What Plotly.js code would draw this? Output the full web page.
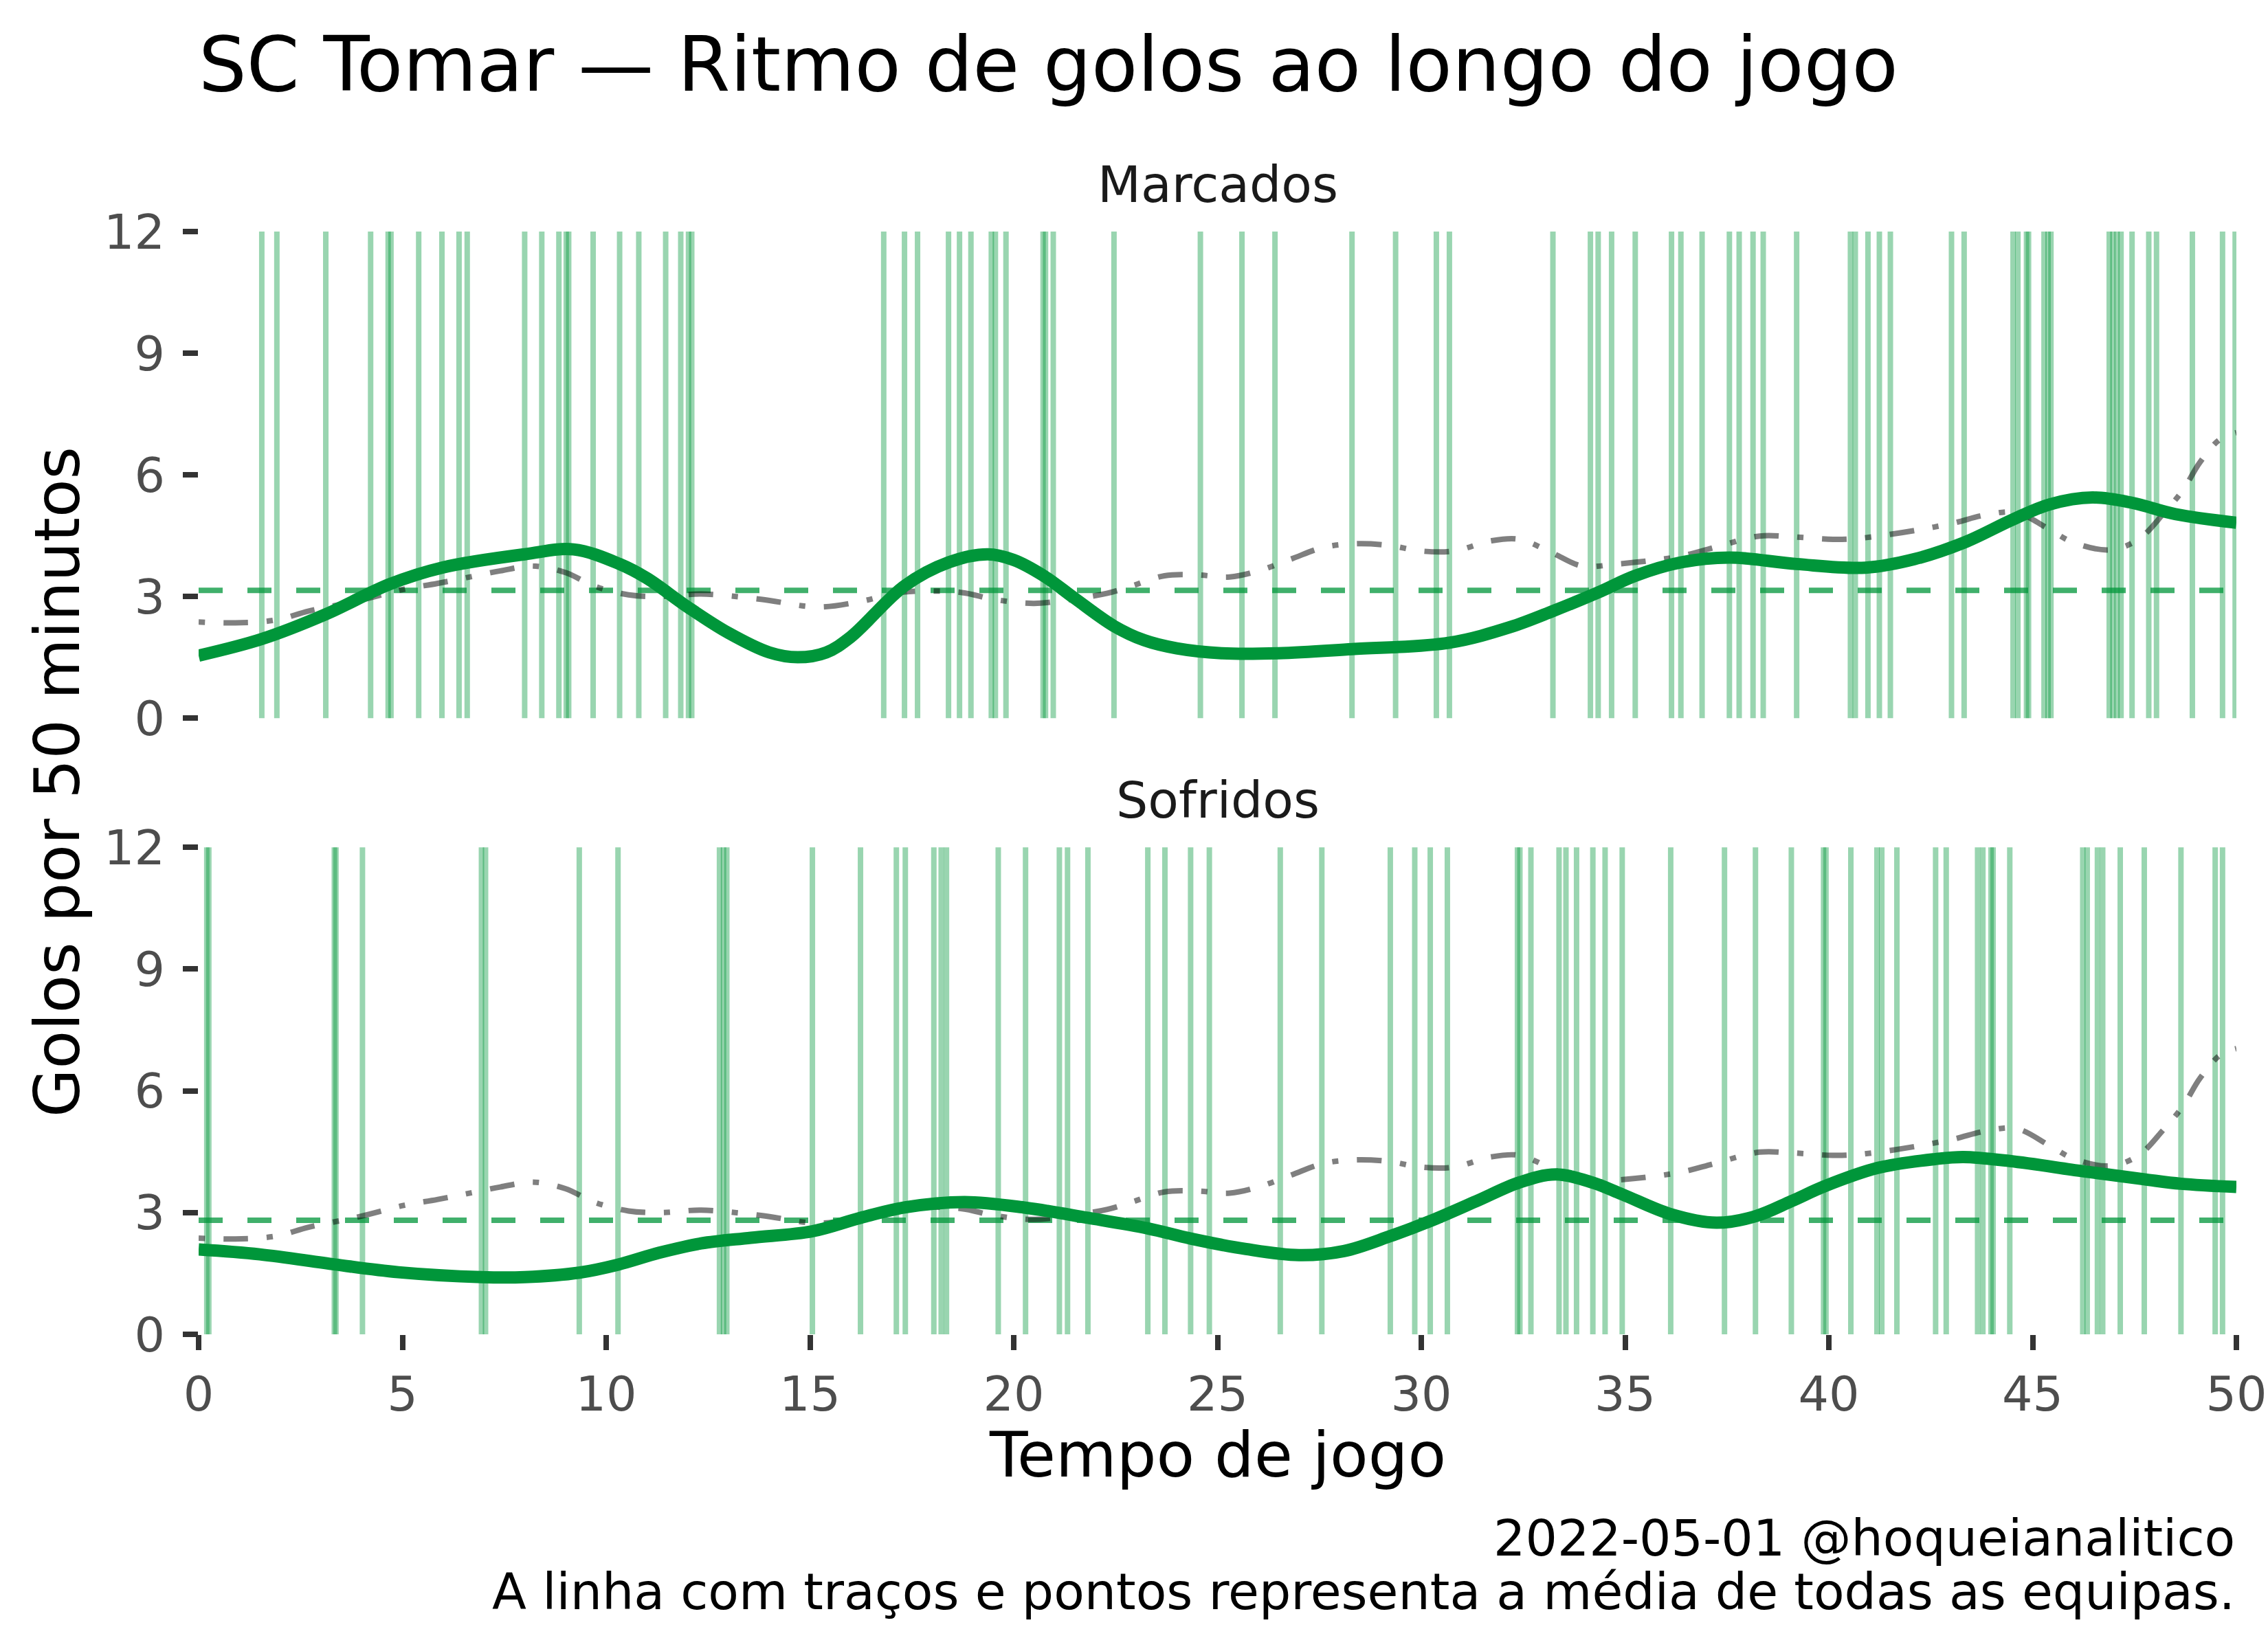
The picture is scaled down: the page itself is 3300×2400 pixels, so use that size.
<!DOCTYPE html>
<html>
<head>
<meta charset="utf-8">
<script src="https://cdn.plot.ly/plotly-3.0.1.min.js"></script>
<style>
  html, body { margin: 0; padding: 0; background: #fff; }
  #chart { width: 3300px; height: 2400px; }
</style>
</head>
<body>
<div id="chart"></div>
<script>
// minutos dos golos (todos os jogos)
var golosMarcados = [1.55, 1.92, 3.12, 4.22, 4.65, 4.72, 5.40, 5.97, 6.39, 6.59, 8.00, 8.42, 8.84, 9.02, 9.08,
  9.68, 10.33, 10.80, 11.46, 11.83, 12.02, 12.10, 16.81, 17.32, 17.64, 18.40, 18.67, 18.95, 19.45, 19.55,
  19.81, 20.72, 20.78, 20.97, 22.46, 24.58, 25.60, 26.41, 28.30, 29.37, 30.37, 30.69, 33.23, 34.15, 34.34,
  34.67, 35.25, 36.14, 36.37, 36.89, 37.56, 37.80, 38.14, 38.39, 39.21, 40.53, 40.65, 40.96, 41.24, 41.51,
  43.01, 43.32, 44.52, 44.64, 44.85, 44.90, 45.28, 45.38, 45.45, 46.88, 46.97, 47.07, 47.17, 47.44, 47.85,
  48.04, 48.92, 49.66, 49.97];
var golosSofridos = [0.20, 0.25, 3.33, 3.37, 4.02, 6.94, 7.04, 9.34, 10.29, 12.78, 12.88, 12.96, 15.06, 16.24,
  17.12, 17.34, 18.04, 18.22, 18.35, 19.62, 20.29, 21.12, 21.32, 21.82, 23.29, 23.71, 24.34, 24.80, 26.54,
  27.56, 29.24, 29.84, 30.22, 30.64, 32.36, 32.42, 32.69, 33.38, 33.55, 33.81, 34.21, 34.51, 34.93, 36.12,
  37.44, 38.20, 39.08, 39.87, 39.93, 40.54, 41.18, 41.30, 41.67, 42.62, 42.88, 43.65, 43.78, 43.98, 44.03,
  44.44, 46.23, 46.34, 46.59, 46.72, 47.15, 47.74, 48.64, 49.48, 49.66];

// ritmo suavizado (golos por 50 minutos)
var marcadosX = [0, 1.55, 3.12, 4.68, 5.97, 8.0, 9.2, 10.33, 11.0, 12.0, 13.0, 14.0, 14.7, 15.4, 16.0,
  17.32, 18.4, 19.36, 20.0, 20.75, 21.5, 22.46, 23.2, 24.0, 25.1, 26.5, 28.3, 30.69, 32.17, 33.23, 34.34,
  35.25, 36.37, 37.56, 39.21, 40.9, 42.1, 43.32, 44.52, 45.42, 46.47, 47.44, 48.5, 50];
var marcadosY = [1.54, 1.95, 2.56, 3.30, 3.71, 4.04, 4.16, 3.80, 3.45, 2.74, 2.10, 1.62, 1.50, 1.62, 2.00,
  3.26, 3.84, 4.04, 3.90, 3.50, 2.95, 2.27, 1.92, 1.72, 1.60, 1.60, 1.70, 1.86, 2.24, 2.64, 3.10,
  3.51, 3.84, 3.96, 3.80, 3.71, 3.92, 4.33, 4.90, 5.27, 5.44, 5.31, 5.03, 4.82];

var sofridosX = [0, 1.5, 3.35, 4.9, 6.94, 8.0, 9.34, 10.3, 11.3, 12.33, 13.55, 15.06, 16.24, 17.34, 18.8,
  20.29, 21.82, 23.29, 24.34, 25.7, 27.0, 28.1, 29.24, 30.22, 31.35, 32.4, 33.3, 34.2, 34.93, 36.12,
  37.24, 38.2, 39.08, 39.9, 41.2, 42.62, 43.3, 44.44, 46.23, 47.74, 48.64, 50];
var sofridosY = [2.09, 1.97, 1.72, 1.53, 1.41, 1.41, 1.52, 1.72, 2.01, 2.24, 2.38, 2.54, 2.87, 3.13, 3.26,
  3.12, 2.87, 2.61, 2.36, 2.10, 1.95, 2.05, 2.42, 2.79, 3.28, 3.74, 3.94, 3.74, 3.45, 2.96,
  2.75, 2.91, 3.28, 3.65, 4.10, 4.32, 4.37, 4.27, 4.02, 3.82, 3.71, 3.63];

// media de todas as equipas
var mediaX = [0, 0.9, 1.9, 2.7, 3.9, 5.05, 5.85, 6.6, 7.4, 8.2, 9.0, 9.7, 10.55, 11.35, 12.33, 13.8, 15.2,
  16.3, 17.2, 18.7, 19.5, 20.5, 21.4, 22.3, 22.9, 23.7, 24.5, 25.3, 26.0, 26.8, 27.6, 28.4, 29.2, 30.0,
  30.8, 31.7, 32.4, 33.2, 33.95, 34.8, 35.6, 36.4, 37.2, 38.3, 39.1, 40.1, 40.7, 41.5, 42.3, 43.1, 43.8,
  44.6, 45.4, 46.0, 46.9, 47.6, 48.2, 48.7, 49.1, 49.6, 50];
var mediaY = [2.37, 2.35, 2.42, 2.64, 2.89, 3.18, 3.32, 3.47, 3.63, 3.75, 3.59, 3.26, 3.04, 3.00, 3.06, 2.93,
  2.74, 2.89, 3.10, 3.10, 2.93, 2.83, 2.93, 3.08, 3.26, 3.51, 3.53, 3.48, 3.63, 3.92, 4.21, 4.30, 4.26,
  4.12, 4.12, 4.37, 4.41, 4.08, 3.75, 3.80, 3.88, 4.00, 4.21, 4.49, 4.47, 4.41, 4.43, 4.53, 4.66, 4.82,
  5.00, 5.07, 4.66, 4.33, 4.15, 4.41, 5.03, 5.64, 6.30, 6.88, 7.04];

var mediaMarcados = 3.15;
var mediaSofridos = 2.81;

var xTicks = [0, 5, 10, 15, 20, 25, 30, 35, 40, 45, 50];
var yTicks = [0, 3, 6, 9, 12];

var verde = '#00963A';
var fonte = 'DejaVu Sans, sans-serif';

function vlines(golos, xref, yref) {
  return golos.map(function (t) {
    return {
      type: 'line', layer: 'below', xref: xref, yref: yref,
      x0: t, x1: t, y0: 0, y1: 1,
      line: { color: 'rgba(0,150,58,0.4)', width: 8 }
    };
  });
}

function painel(xa, ya, ritmoX, ritmoY, media) {
  return [
    { x: [xTicks[0], xTicks[xTicks.length - 1]], y: [media, media], xaxis: xa, yaxis: ya,
      mode: 'lines', line: { color: 'rgba(0,150,58,0.75)', width: 8, dash: '35px,36px' },
      hoverinfo: 'skip' },
    { x: mediaX, y: mediaY, xaxis: xa, yaxis: ya, mode: 'lines',
      line: { color: 'rgba(0,0,0,0.5)', width: 8, dash: '9px,27px,36px,27px', shape: 'spline', smoothing: 1 } },
    { x: ritmoX, y: ritmoY, xaxis: xa, yaxis: ya, mode: 'lines',
      line: { color: verde, width: 18, shape: 'spline', smoothing: 1 } }
  ];
}

var data = painel('x2', 'y2', marcadosX, marcadosY, mediaMarcados)
  .concat(painel('x', 'y', sofridosX, sofridosY, mediaSofridos));

var eixoY = {
  range: [0, 12], tickvals: yTicks, ticks: 'outside', ticklen: 22, tickwidth: 8, tickcolor: '#333333',
  tickfont: { family: fonte, size: 70, color: '#4D4D4D' }, ticklabelstandoff: 12,
  showgrid: false, zeroline: false, showline: false, fixedrange: true
};

var layout = {
  width: 3300, height: 2400,
  margin: { l: 289, r: 46, t: 337, b: 458 },
  paper_bgcolor: '#ffffff', plot_bgcolor: '#ffffff',
  showlegend: false,
  font: { family: fonte },
  title: {
    text: 'SC Tomar — Ritmo de golos ao longo do jogo',
    font: { family: fonte, size: 110, color: '#000000' },
    xref: 'paper', x: 0, xanchor: 'left',
    yref: 'container', y: 0.961, yanchor: 'middle'
  },
  xaxis: {
    range: [0, 50], tickvals: xTicks, ticks: 'outside', ticklen: 22, tickwidth: 8, tickcolor: '#333333',
    tickfont: { family: fonte, size: 70, color: '#4D4D4D' }, ticklabelstandoff: 4,
    showgrid: false, zeroline: false, showline: false, anchor: 'y'
  },
  xaxis2: {
    range: [0, 50], matches: 'x', showticklabels: false, ticks: '',
    showgrid: false, zeroline: false, showline: false, anchor: 'y2'
  },
  yaxis: Object.assign({}, eixoY, { domain: [0, 0.4416], anchor: 'x' }),
  yaxis2: Object.assign({}, eixoY, { domain: [0.5588, 1], anchor: 'x2' }),
  shapes: vlines(golosMarcados, 'x2', 'y2 domain').concat(vlines(golosSofridos, 'x', 'y domain')),
  annotations: [
    { text: 'Marcados', xref: 'paper', yref: 'paper', x: 0.5, y: 1.0424, showarrow: false,
      xanchor: 'center', yanchor: 'middle', font: { family: fonte, size: 73, color: '#1A1A1A' } },
    { text: 'Sofridos', xref: 'paper', yref: 'paper', x: 0.5, y: 0.4846, showarrow: false,
      xanchor: 'center', yanchor: 'middle', font: { family: fonte, size: 73, color: '#1A1A1A' } },
    { text: 'Tempo de jogo', xref: 'paper', yref: 'paper', x: 0.5, y: -0.1095, showarrow: false,
      borderpad: 0, xanchor: 'center', yanchor: 'middle', font: { family: fonte, size: 91, color: '#000000' } },
    { text: 'Golos por 50 minutos', xref: 'paper', yref: 'paper', x: -0.0691, y: 0.501, showarrow: false,
      textangle: -90, xanchor: 'center', yanchor: 'middle', font: { family: fonte, size: 91, color: '#000000' } },
    { text: '2022-05-01 @hoqueianalitico', xref: 'paper', yref: 'paper', x: 1, y: -0.1847, showarrow: false,
      xanchor: 'right', yanchor: 'middle', align: 'right', font: { family: fonte, size: 73, color: '#000000' } },
    { text: 'A linha com traços e pontos representa a média de todas as equipas.', xref: 'paper', yref: 'paper',
      x: 1, y: -0.2333, showarrow: false, xanchor: 'right', yanchor: 'middle', align: 'right',
      font: { family: fonte, size: 73, color: '#000000' } }
  ]
};

Plotly.newPlot('chart', data, layout, { staticPlot: true, displayModeBar: false });
</script>
</body>
</html>
